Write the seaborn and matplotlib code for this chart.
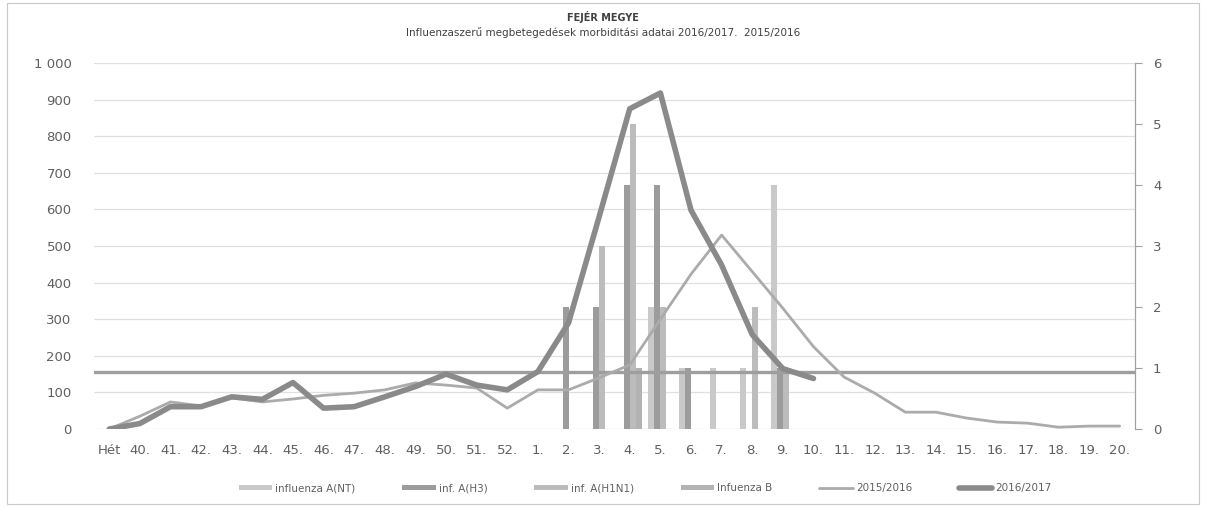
import numpy as np
import pandas as pd
import matplotlib
matplotlib.use("Agg")
import matplotlib.pyplot as plt
import seaborn as sns
from matplotlib.patches import Patch, Rectangle
from matplotlib.lines import Line2D

# kategóriák (hetek)
weeks = ["Hét", "40.", "41.", "42.", "43.", "44.", "45.", "46.", "47.", "48.", "49.",
         "50.", "51.", "52.", "1.", "2.", "3.", "4.", "5.", "6.", "7.", "8.", "9.",
         "10.", "11.", "12.", "13.", "14.", "15.", "16.", "17.", "18.", "19.", "20."]

# morbiditás (bal tengely)
season_1516 = [0, 35, 74, 63, 85, 74, 82, 92, 98, 107, 126, 120, 112, 57, 107, 107,
               140, 175, 300, 423, 530, 430, 330, 225, 142, 98, 46, 46, 30, 19, 16, 5, 8, 8]
season_1617 = [0, 15, 61, 61, 88, 81, 127, 57, 61, 88, 116, 150, 120, 107, 157, 290,
               580, 875, 918, 598, 448, 258, 165, 138] + [np.nan] * 10
threshold = 157

# virológiai esetek (jobb tengely)
flu_a_nt = [0] * 18 + [2, 1, 1, 1, 4] + [0] * 11
flu_a_h3 = [0] * 15 + [2, 2, 4, 4, 1, 0, 0, 1] + [0] * 11
flu_a_h1n1 = [0] * 16 + [3, 5, 2, 0, 0, 2, 1] + [0] * 11
flu_b = [0] * 17 + [1] + [0] * 16

bar_names = ["influenza A(NT)", "inf. A(H3)", "inf. A(H1N1)", "Infuenza B"]
bar_colors = ["#c9c9c9", "#9c9c9c", "#bcbcbc", "#b3b3b3"]

bars = pd.DataFrame({
    "week": weeks * 4,
    "series": np.repeat(bar_names, len(weeks)),
    "value": flu_a_nt + flu_a_h3 + flu_a_h1n1 + flu_b,
})

sns.set_theme(style="white")
plt.rcParams["font.family"] = ["DejaVu Sans"]

fig = plt.figure(figsize=(12.06, 5.07), dpi=100)
ax = fig.add_axes([0.0779, 0.1538, 0.8632, 0.7219])
ax2 = ax.twinx()

# oszlopok a jobb tengelyen
sns.barplot(data=bars, x="week", y="value", hue="series", order=weeks,
            hue_order=bar_names, palette=dict(zip(bar_names, bar_colors)),
            width=0.78, dodge=True, errorbar=None, legend=False, ax=ax,
            zorder=2, linewidth=0)
ax.set_ylim(0, 6)
ax.set_xlim(-0.5, len(weeks) - 0.5)
ax.yaxis.tick_right()
ax.yaxis.set_label_position("right")
ax.set_yticks(range(0, 7))
ax.hlines(np.arange(0, 6.01, 0.6), -0.5, len(weeks) - 0.5, color="#cfcfcf",
          lw=0.9, ls=(0, (1, 0.6)), zorder=0)
ax.tick_params(axis="y", which="both", right=True, left=False, length=5, width=0.8,
               color="#a0a0a0", labelsize=9.5, labelcolor="#606060", pad=8)
ax.tick_params(axis="x", length=0, labelsize=9.5, labelcolor="#606060", pad=11)
ax.set_xlabel("")
ax.set_ylabel("")
for s in ["top", "left", "bottom"]:
    ax.spines[s].set_visible(False)
ax.spines["right"].set_color("#a0a0a0")
ax.spines["right"].set_linewidth(0.9)

# vonalak a bal tengelyen
xpos = np.arange(len(weeks))
ax2.axhline(threshold, color="#9e9e9e", lw=2.4, zorder=1)
sns.lineplot(x=xpos, y=season_1516, color="#ababab", lw=2.0, ax=ax2,
             estimator=None, sort=False, zorder=3)
sns.lineplot(x=xpos, y=season_1617, color="#8a8a8a", lw=4.0, ax=ax2,
             estimator=None, sort=False, zorder=4)
ax2.set_ylim(0, 1000)
ax2.set_xlim(-0.5, len(weeks) - 0.5)
ax2.yaxis.tick_left()
ax2.yaxis.set_label_position("left")
ax2.set_yticks(range(0, 1001, 100))
ax2.set_yticklabels([f"{v:,}".replace(",", " ") for v in range(0, 1001, 100)])
ax2.tick_params(axis="y", length=0, right=False, labelright=False,
                labelsize=9.5, labelcolor="#606060", pad=16)
for s in ["top", "left", "bottom", "right"]:
    ax2.spines[s].set_visible(False)

fig.text(0.5, 0.966, "FEJÉR MEGYE", ha="center", va="center", fontsize=7,
         color="#404040", fontweight="bold")
fig.text(0.5, 0.935, "Influenzaszerű megbetegedések morbiditási adatai 2016/2017.  2015/2016",
         ha="center", va="center", fontsize=7.5, color="#404040")

handles = [Patch(facecolor=c, edgecolor="none") for c in bar_colors]
handles += [Line2D([], [], color="#ababab", lw=2.0), Line2D([], [], color="#8a8a8a", lw=4.0)]
labels = bar_names + ["2015/2016", "2016/2017"]
fig.legend(handles, labels, loc="center", bbox_to_anchor=(0.535, 0.037), ncol=6,
           frameon=False, fontsize=7.5, labelcolor="#606060", handlelength=3.2,
           handleheight=0.35, columnspacing=4.5, handletextpad=0.3)

fig.patches.append(Rectangle((0.006, 0.006), 0.988, 0.988, transform=fig.transFigure,
                             fill=False, edgecolor="#c8c8c8", lw=0.8))

fig.savefig("out.png", dpi=100)
